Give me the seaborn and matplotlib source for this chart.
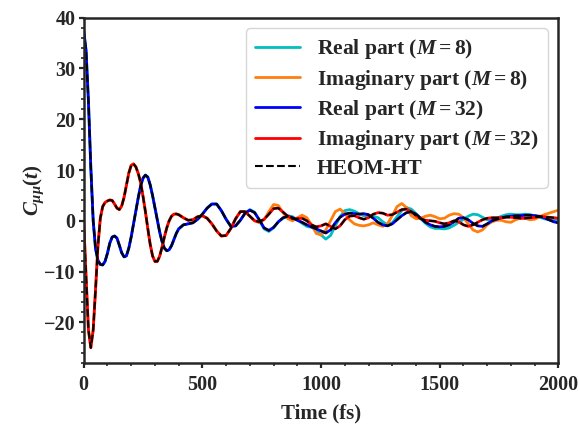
import numpy as np
import pandas as pd
import matplotlib
matplotlib.use('Agg')
import matplotlib.pyplot as plt
import seaborn as sns
from matplotlib.ticker import MultipleLocator

# time grid (fs): 10 fs steps up to 390, then 20 fs steps
t = list(range(0, 400, 10)) + list(range(400, 2001, 20))

# HEOM-HT reference, real part
heom_real = [37.5, 33.5, 23.5, 10.5, 0.0, -5.5, -7.8, -8.6, -8.7, -8.0,
             -6.4, -4.4, -3.2, -3.0, -3.4, -4.8, -6.3, -7.1, -6.9, -5.4,
             -3.2, -0.6, 2.0, 4.6, 6.9, 8.4, 9.0, 8.6, 7.1, 5.0,
             2.6, 0.2, -2.2, -4.1, -5.4, -5.9, -5.7, -4.9, -3.7, -2.5,
             -1.6, -0.8, -0.6, -0.4, 0.3, 1.3, 2.5, 3.3, 3.3, 2.0,
             0.3, -1.1, -1.0, 0.1, 1.5, 2.1, 1.6, 0.2, -1.4, -1.9,
             -1.3, -0.2, 0.6, 0.9, 0.6, 0.1, -0.3, -0.8, -1.2, -1.6,
             -2.0, -2.4, -1.8, -0.4, 0.7, 1.3, 1.5, 1.4, 1.3, 1.4,
             1.2, 0.5, -0.3, -0.8, -1.0, -0.6, 0.2, 1.0, 1.6,
             1.8, 1.3, 0.5, -0.3, -0.8, -1.1, -1.2, -1.1, -0.8, -0.2,
             0.5, 0.6, 0.2, -0.5, -1.0, -1.1, -0.6, 0.0, 0.3, 0.6,
             0.8, 0.9, 1.0, 1.0, 1.1, 1.1, 1.0, 0.9, 0.6, 0.2,
             -0.2, -0.4]

# HEOM-HT reference, imaginary part
heom_imag = [0.0, -11.0, -21.5, -25.0, -21.5, -13.5, -5.0, 0.5, 2.8, 3.6,
             3.9, 4.1, 4.0, 3.3, 2.5, 2.2, 2.9, 4.6, 7.0, 9.4,
             10.9, 11.2, 10.6, 9.3, 7.5, 4.8, 1.8, -1.5, -4.6, -6.9,
             -8.0, -8.0, -7.0, -5.2, -3.2, -1.4, 0.0, 0.9, 1.3, 1.35,
             1.2, 0.6, 0.1, 0.2, 0.8, 1.0, 0.5, -0.6, -2.0, -3.0,
             -2.9, -1.5, 0.4, 1.8, 1.8, 0.9, 0.0, -0.2, 0.3, 1.3,
             2.4, 2.5, 1.7, 0.9, 0.4, 0.4, 0.5, 0.0, -0.8, -1.2,
             -1.0, -0.6, -1.1, -1.6, -1.0, 0.2, 0.9, 1.0, 0.6, 0.3,
             0.6, 1.3, 1.6, 1.5, 1.1, 1.2, 1.7, 2.2, 2.3, 1.8,
             1.0, 0.4, 0.1, 0.0, -0.1, -0.4, -0.6, -0.4, 0.0, -0.2,
             -0.8, -1.1, -0.8, -0.3, 0.2, 0.5, 0.6, 0.6, 0.6, 0.7,
             0.7, 0.6, 0.5, 0.5, 0.6, 0.7, 0.8, 0.8, 0.7, 0.6,
             0.5]

# M = 32 follows the reference over the whole window
m32_real = list(heom_real)
m32_imag = list(heom_imag)

# M = 8 follows the reference until ~700 fs, then drifts
n700 = t.index(700)
m8_real = heom_real[:n700] + [
    2.2, 1.7, 0.1, -1.6, -2.1, -1.4, -0.2, 0.5, 1.0, 0.8,
    0.2, -0.5, -1.1, -1.3, -1.8, -2.8, -3.6, -2.9, -1.0, 0.8,
    2.0, 2.2, 1.9, 1.4, 1.0, 0.9, 0.9, 0.6, -0.2, -0.8,
    -0.4, 0.8, 2.0, 2.6, 2.3, 1.4, 0.4, -0.5, -1.2, -1.5,
    -1.5, -1.6, -1.4, -0.9, -0.3, 0.3, 0.9, 1.3, 1.2, 0.7,
    0.2, 0.2, 0.5, 0.9, 1.2, 1.3, 1.2, 1.2, 1.3, 1.2,
    1.0, 0.7, 0.4, 0.2, 0.1, 0.1]
m8_imag = heom_imag[:n700] + [
    0.9, 0.0, -0.4, 0.2, 1.8, 3.2, 3.0, 1.6, 0.4, 0.0,
    0.6, 1.1, 0.6, -0.8, -2.5, -2.8, -1.8, 0.0, 1.8, 2.3,
    1.5, 0.2, -0.6, -0.9, -1.0, -0.8, -0.4, -0.8, -1.1, -0.6,
    1.0, 2.8, 3.4, 2.6, 1.0, 0.4, 0.5, 0.9, 1.1, 0.8,
    0.4, 0.5, 1.1, 1.4, 1.3, 0.6, -0.6, -1.8, -2.2, -1.8,
    -0.8, -0.2, 0.1, 0.1, -0.2, -0.3, 0.2, 0.5, 0.5, 0.2,
    0.3, 0.8, 1.2, 1.5, 1.8, 2.1]

sns.set_style('ticks')
plt.rcParams['font.family'] = ['Liberation Serif', 'DejaVu Serif']
plt.rcParams['font.weight'] = 'bold'
plt.rcParams['axes.labelweight'] = 'bold'
plt.rcParams['mathtext.fontset'] = 'custom'
plt.rcParams['mathtext.rm'] = 'Liberation Serif:bold'
plt.rcParams['mathtext.bf'] = 'Liberation Serif:bold'
plt.rcParams['mathtext.it'] = 'Liberation Serif:italic:bold'

fig, ax = plt.subplots(figsize=(5.8, 4.26), dpi=100)
fig.subplots_adjust(left=0.1443, right=0.9628, bottom=0.148, top=0.9585)

sns.lineplot(x=t, y=m8_real, color='c', lw=2, label=r'Real part ($M=8$)', ax=ax)
sns.lineplot(x=t, y=m8_imag, color='tab:orange', lw=2, label=r'Imaginary part ($M=8$)', ax=ax)
sns.lineplot(x=t, y=m32_real, color='b', lw=2, label=r'Real part ($M=32$)', ax=ax)
sns.lineplot(x=t, y=m32_imag, color='r', lw=2, label=r'Imaginary part ($M=32$)', ax=ax)
sns.lineplot(x=t, y=heom_real, color='k', lw=1.5, ls='--', label='HEOM-HT', ax=ax)
sns.lineplot(x=t, y=heom_imag, color='k', lw=1.5, ls='--', ax=ax)

ax.set_xlim(0, 2000)
ax.set_ylim(-28, 40)
ax.xaxis.set_major_locator(MultipleLocator(500))
ax.xaxis.set_minor_locator(MultipleLocator(100))
ax.yaxis.set_major_locator(MultipleLocator(10))
ax.yaxis.set_minor_locator(MultipleLocator(2))
ax.tick_params(which='major', length=3.5, width=1.6, labelsize=14.5)
ax.tick_params(which='minor', length=2, width=1.2)
ax.tick_params(axis='x', which='major', pad=5.5)
ax.tick_params(axis='y', which='major', pad=2.5)
for sp in ax.spines.values():
    sp.set_linewidth(1.8)
    sp.set_visible(True)

ax.set_xlabel('Time (fs)', fontsize=15)
ax.set_ylabel(r'$C_{\mu\mu}(t)$', fontsize=15)
ax.xaxis.set_label_coords(0.5, -0.118)
ax.yaxis.set_label_coords(-0.08, 0.5)

leg = ax.legend(loc='upper right', handlelength=2.1, labelspacing=0.3,
                prop={'weight': 'bold', 'size': 15.5})

fig.savefig('out.png', dpi=100)
